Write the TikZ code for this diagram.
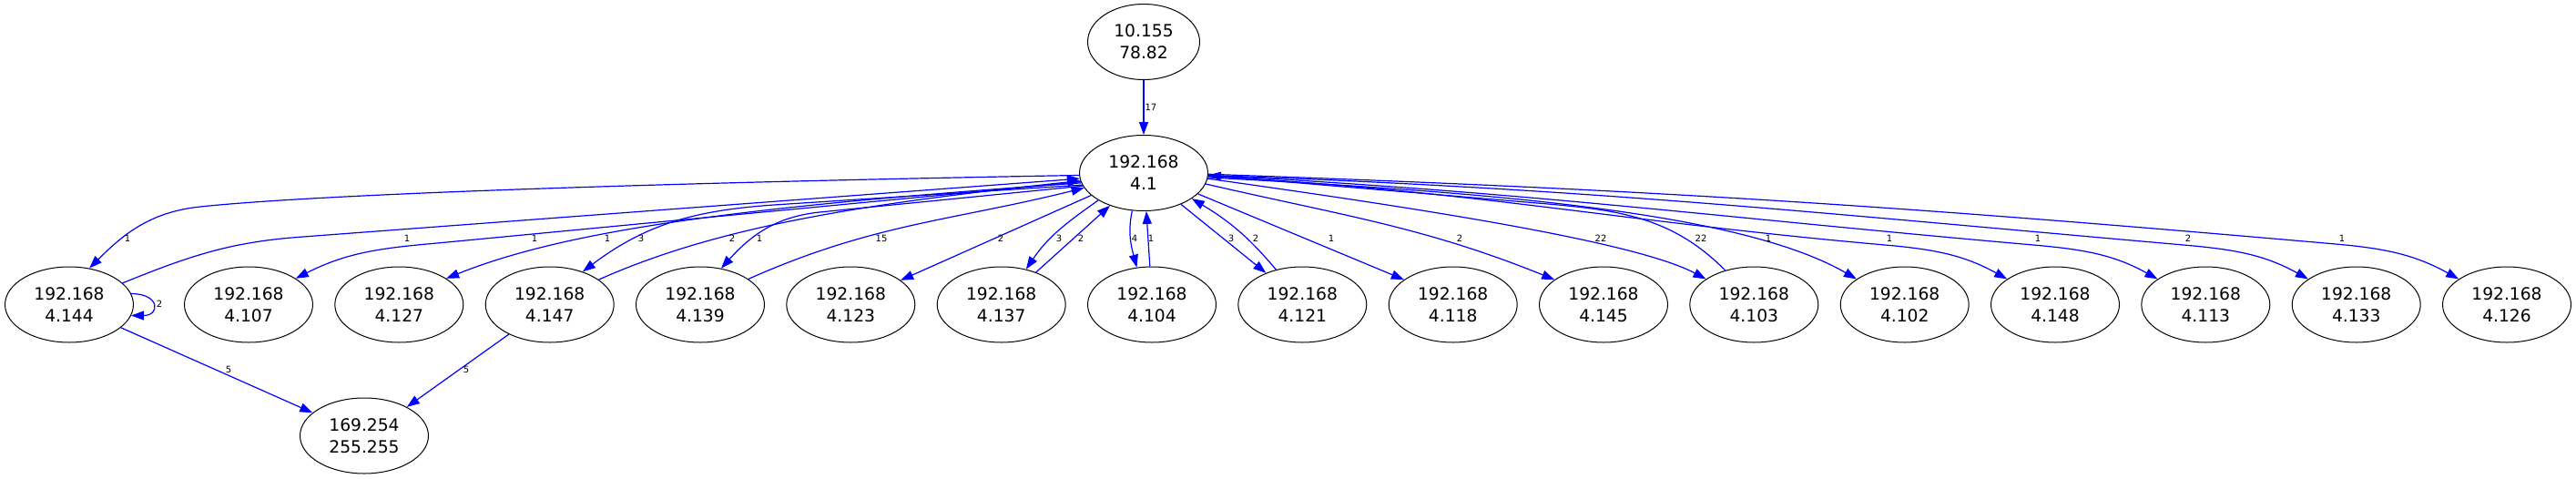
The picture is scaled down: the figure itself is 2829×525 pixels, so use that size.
\documentclass[tikz,border=0pt]{standalone}
\usepackage{fontspec}
\setmainfont{DejaVu Sans}
\usetikzlibrary{positioning}
\usetikzlibrary{arrows.meta}
\usetikzlibrary{shapes.geometric}

\begin{document}
\begin{tikzpicture}[
host/.style={ellipse, draw=black, line width=1pt, minimum width=141pt, minimum height=83pt, inner sep=0pt, align=center, font=\fontsize{18.67}{24}\selectfont},
link/.style={draw=blue, line width=1.2pt, -{Triangle[length=14pt,width=10pt]}},
lbl/.style={inner sep=0pt, font=\fontsize{10}{12}\selectfont}]
\useasboundingbox (0pt,0pt) rectangle (2829pt,-525pt);
\node (n82) [host, minimum width=123pt] at (1256pt, -46pt) {10.155\\78.82};
\node (n1) [host] at (1256pt, -190pt) {192.168\\4.1};
\node (n144) [host] at (76pt, -334.5pt) {192.168\\4.144};
\node (n107) [host] at (273pt, -334.5pt) {192.168\\4.107};
\node (n127) [host] at (438.3pt, -334.5pt) {192.168\\4.127};
\node (n147) [host] at (603.7pt, -334.5pt) {192.168\\4.147};
\node (n139) [host] at (769pt, -334.5pt) {192.168\\4.139};
\node (n123) [host] at (934.3pt, -334.5pt) {192.168\\4.123};
\node (n137) [host] at (1099.7pt, -334.5pt) {192.168\\4.137};
\node (n104) [host] at (1265pt, -334.5pt) {192.168\\4.104};
\node (n121) [host] at (1430.3pt, -334.5pt) {192.168\\4.121};
\node (n118) [host] at (1595.7pt, -334.5pt) {192.168\\4.118};
\node (n145) [host] at (1761pt, -334.5pt) {192.168\\4.145};
\node (n103) [host] at (1926.3pt, -334.5pt) {192.168\\4.103};
\node (n102) [host] at (2091.7pt, -334.5pt) {192.168\\4.102};
\node (n148) [host] at (2257pt, -334.5pt) {192.168\\4.148};
\node (n113) [host] at (2422.3pt, -334.5pt) {192.168\\4.113};
\node (n133) [host] at (2587.7pt, -334.5pt) {192.168\\4.133};
\node (n126) [host] at (2753pt, -334.5pt) {192.168\\4.126};
\node (n255) [host] at (400pt, -478.5pt) {169.254\\255.255};
\draw [link] (n82) -- (n1) node [lbl, midway, right=1pt] {17};
\draw [link] (n1.182) .. controls +(181:378pt) and +(6:150pt) .. (220pt,-227pt) to [out=186, in=45] (n144.61) node [lbl] at (140pt,-262pt) {1};
\draw [link] (n144.22) to [out=22, in=184] (333pt,-260pt) -- (n1.185) node [lbl] at (667pt,-262pt) {1};
\draw [link] (n1.188) -- (480pt,-267pt) to [out=185, in=27] (n107.29) node [lbl] at (447pt,-262pt) {1};
\draw [link] (n1.189) .. controls +(184:350pt) and +(22:150pt) .. (n127.29) node [lbl] at (587pt,-262pt) {1};
\draw [link] (n1.191) -- (850pt,-225pt) to [out=184, in=37] (n147.45) node [lbl] at (704pt,-262pt) {3};
\draw [link] (n147.27) .. controls +(24:140pt) and +(186:250pt) .. (n1.187) node [lbl] at (804pt,-262pt) {2};
\draw [link] (n1.192) -- (900pt,-233pt) to [out=186, in=48] (n139.60) node [lbl] at (834pt,-262pt) {1};
\draw [link] (n139.28) .. controls +(24:150pt) and +(194:150pt) .. (n1.194) node [lbl] at (968pt,-262pt) {15};
\draw [link] (n1.203) -- (n123.26) node [lbl] at (1099pt,-262pt) {2};
\draw [link] (n1.211) to [out=215, in=56] (n137.55) node [lbl] at (1163pt,-262pt) {3};
\draw [link] (n137.43) -- (n1.224) node [lbl] at (1187pt,-262pt) {2};
\draw [link] (n1.253) to [out=258, in=105] (n104.112) node [lbl] at (1246pt,-262pt) {4};
\draw [link] (n104.93) -- (n1.274) node [lbl] at (1264pt,-262pt) {1};
\draw [link] (n1.320) -- (n121.139) node [lbl] at (1352pt,-262pt) {3};
\draw [link] (n121.127) to [out=130, in=-31] (n1.332) node [lbl] at (1379pt,-262pt) {2};
\draw [link] (n1.339) -- (n118.153) node [lbl] at (1462pt,-262pt) {1};
\draw [link] (n1.350) .. controls +(-13:155pt) and +(158:155pt) .. (n145.153) node [lbl] at (1603pt,-262pt) {2};
\draw [link] (n1.355) .. controls +(-8:220pt) and +(152:90pt) .. (n103.152) node [lbl] at (1758pt,-262pt) {22};
\draw [link] (n103.130) to [out=135, in=-5] (1700pt,-224pt) -- (n1.358) node [lbl] at (1868pt,-262pt) {22};
\draw [link] (n1.356) .. controls +(-3:300pt) and +(150:150pt) .. (n102.152) node [lbl] at (1942pt,-262pt) {1};
\draw [link] (n1.357) .. controls +(-3:292pt) and +(175:292pt) .. (2070pt,-269pt) to [out=-5, in=151] (n148.152) node [lbl] at (2075pt,-262pt) {1};
\draw [link] (n1.358) .. controls +(-3:356pt) and +(175:356pt) .. (2233pt,-269pt) to [out=-5, in=151] (n113.152) node [lbl] at (2238pt,-262pt) {1};
\draw [link] (n1.358) .. controls +(-2:421pt) and +(175:421pt) .. (2398pt,-269pt) to [out=-5, in=151] (n133.152) node [lbl] at (2403pt,-262pt) {2};
\draw [link] (n1.359) .. controls +(-2:486pt) and +(175:486pt) .. (2565pt,-268pt) to [out=-5, in=151] (n126.152) node [lbl] at (2572pt,-262pt) {1};
\draw [link] (n144.10) .. controls +(0:32pt) and +(0:32pt) .. (n144.-10) node [lbl] at (175pt,-334pt) {2};
\draw [link] (n144.336) -- (n255.156) node [lbl] at (251pt,-406pt) {5};
\draw [link] (n147.216) -- (n255.34) node [lbl] at (512pt,-406pt) {5};
\end{tikzpicture}
\end{document}
